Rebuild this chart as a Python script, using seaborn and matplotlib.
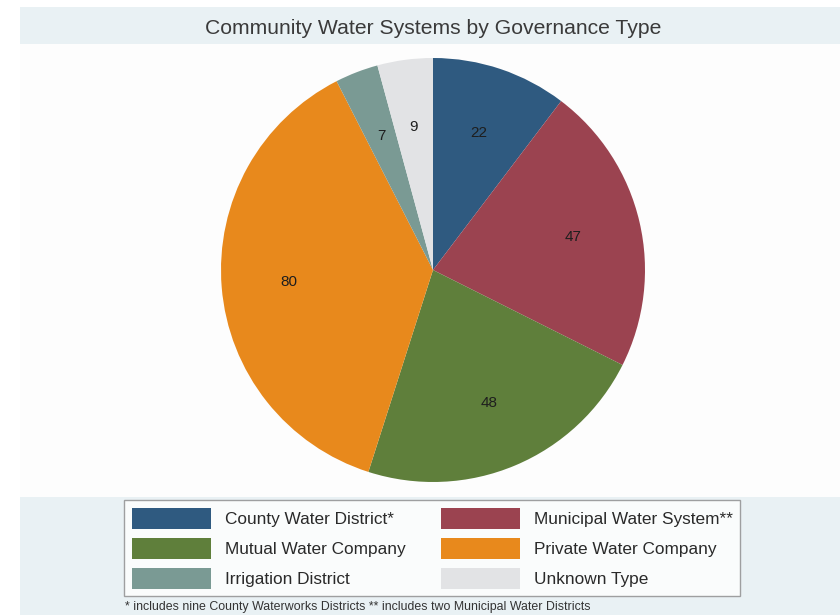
import matplotlib
matplotlib.use("Agg")
import matplotlib.pyplot as plt
from matplotlib.patches import Rectangle, Patch
import seaborn as sns

categories = ["County Water District*", "Municipal Water System**", "Mutual Water Company",
              "Private Water Company", "Irrigation District", "Unknown Type"]
counts = [22, 47, 48, 80, 7, 9]
colors = ["#2F5A80", "#9B4350", "#5F7F3B", "#E8891C", "#7A9A94", "#E2E3E5"]
title = "Community Water Systems by Governance Type"
footnote = "* includes nine County Waterworks Districts ** includes two Municipal Water Districts"

sns.set_theme(style="white")
plt.rcParams['font.family'] = ['Liberation Sans', 'DejaVu Sans']
palette = sns.color_palette(colors)

W, H = 840, 615
fig = plt.figure(figsize=(W / 100, H / 100), dpi=100)
fig.patch.set_facecolor("white")

def px_rect(x0, y0, x1, y1, color, z=0):
    fig.add_artist(Rectangle((x0 / W, 1 - y1 / H), (x1 - x0) / W, (y1 - y0) / H,
                             transform=fig.transFigure, facecolor=color, edgecolor="none", zorder=z))

band = "#E9F1F4"
px_rect(20, 7, 840, 44, band)
px_rect(20, 44, 840, 497, "#FDFDFD")
px_rect(20, 497, 840, 615, band)

fig.text(433 / W, 1 - 28 / H, title, ha="center", va="center", fontsize=15.2, color="#3A3A3A")

cx, cy, r = 433, 270, 212
ax = fig.add_axes([(cx - r) / W, 1 - (cy + r) / H, 2 * r / W, 2 * r / H])
ax.pie(counts, colors=palette, startangle=90, counterclock=False,
       labels=[str(c) for c in counts], labeldistance=0.68,
       textprops=dict(fontsize=11, color="#1E1E1E", ha="center", va="center"),
       wedgeprops=dict(linewidth=0))
ax.set_xlim(-1, 1)
ax.set_ylim(-1, 1)
ax.set_aspect("equal")
ax.patch.set_alpha(0)

order = [0, 2, 4, 1, 3, 5]
handles = [Patch(facecolor=palette[i], edgecolor="none", label=categories[i]) for i in order]
leg = fig.legend(handles=handles, ncol=2, loc="upper left",
                 bbox_to_anchor=(124 / W, 1 - 500 / H), bbox_transform=fig.transFigure,
                 fontsize=12.4, frameon=True, fancybox=False, edgecolor="#8A8A8A",
                 handlelength=4.6, handleheight=1.5, handletextpad=0.81,
                 labelspacing=0.52, columnspacing=2.03, borderpad=0.45, borderaxespad=0)
leg.get_frame().set_linewidth(1.0)
leg.get_frame().set_facecolor("white")
for t in leg.get_texts():
    t.set_color("#2A2A2A")

fig.text(125 / W, 1 - 607 / H, footnote, ha="left", va="center", fontsize=8.9, color="#333333")

fig.savefig("out.png", dpi=100, facecolor=fig.get_facecolor())
